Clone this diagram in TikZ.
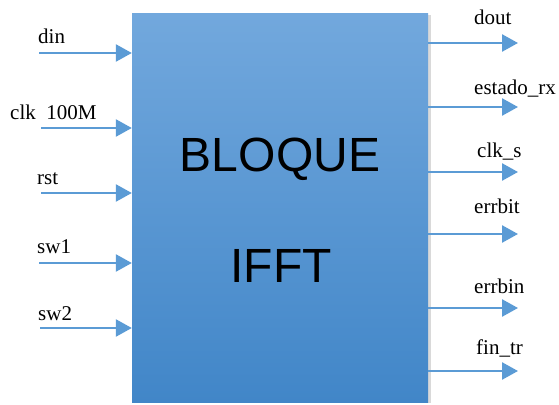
\documentclass[tikz,border=0pt]{standalone}
\usepackage{fontspec}
\setmainfont{Liberation Serif}
\newfontfamily\blockfont{Liberation Sans}
\usetikzlibrary{arrows.meta,shadows}
\definecolor{signalblue}{RGB}{91,155,213}
\definecolor{blocktop}{RGB}{114,168,221}
\definecolor{blockbottom}{RGB}{65,134,200}
\begin{document}
\begin{tikzpicture}
[x=1pt,y=-1pt,
  signalDecorate/.style={-{Triangle[length=16pt,width=17pt]},line width=2.5pt,signalblue},%
  labelDecorate/.style={anchor=base west,inner sep=0pt,font=\fontsize{21}{24}\selectfont},%
  blockDecorate/.style={draw=none,top color=blocktop,bottom color=blockbottom,
    minimum width=296pt,minimum height=388pt,
    drop shadow={shadow xshift=3pt,shadow yshift=-1pt,opacity=0.3}},%
  titleDecorate/.style={anchor=base,inner sep=0pt,font=\blockfont\fontsize{48}{56}\selectfont}]
\useasboundingbox (0,0) rectangle (559,404);
%% block
\node (bloque) at (280,208) [blockDecorate] {};
\node (bloqueTxt) at (280,171) [titleDecorate] {BLOQUE};
\node (ifftTxt) at (281,282) [titleDecorate] {IFFT};
%% inputs
\foreach \nodename/\x/\y/\lx/\ly/\txt in {
  din/39/53/38/44/din, clk/41/128/10/119/clk\ \ 100M, rst/41/193/37/184/rst,
  swa/39/263/37/253/sw1, swb/40/328/38/320/sw2}
{
  \coordinate (\nodename) at (\x,\y);
  \node (\nodename-lbl) at (\lx,\ly) [labelDecorate] {\txt};
  \draw[signalDecorate] (\nodename) -- (\nodename -| bloque.west);
}
%% outputs
\foreach \nodename/\y/\lx/\ly/\txt in {
  dout/43/474/25/dout, estado/107/474/94/estado\_rx, clks/172/477/157/clk\_s,
  errbit/234/474/213/errbit, errbin/308/474/293/errbin, fintr/371/476/354/fin\_tr}
{
  \coordinate (\nodename) at (518,\y);
  \node (\nodename-lbl) at (\lx,\ly) [labelDecorate] {\txt};
  \draw[signalDecorate] (\nodename -| bloque.east) -- (\nodename);
}
\end{tikzpicture}
\end{document}
